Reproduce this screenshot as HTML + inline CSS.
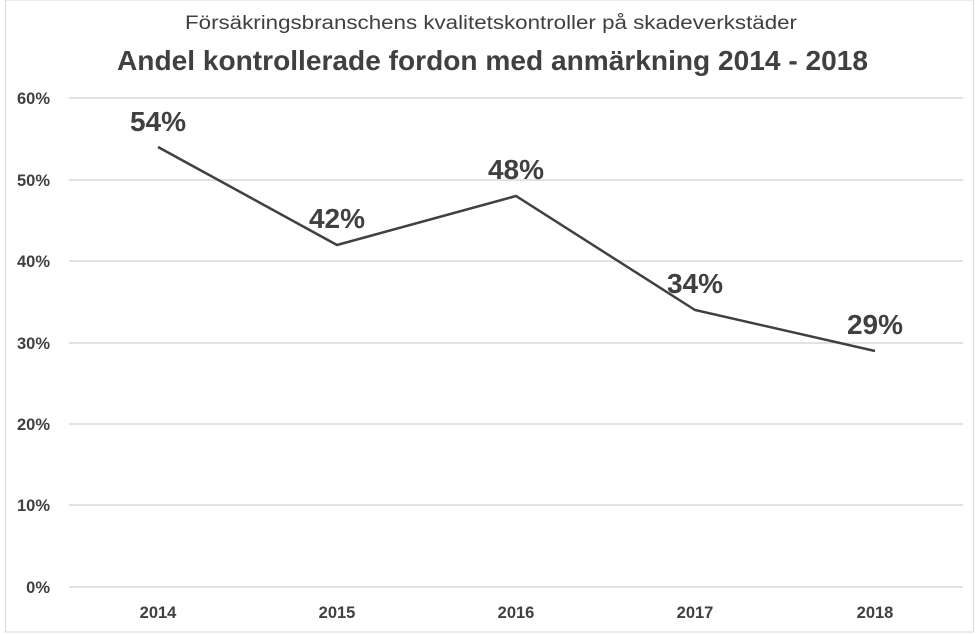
<!DOCTYPE html>
<html><head><meta charset="utf-8"><style>
html,body{margin:0;padding:0;background:#fff;}
svg{display:block;font-family:"Liberation Sans",sans-serif;}
</style></head><body>
<svg width="980" height="634" viewBox="0 0 980 634" xmlns="http://www.w3.org/2000/svg">
<rect x="5.5" y="0" width="968" height="632" fill="#fff" stroke="#d9d9d9" stroke-width="1"/>
<text x="185" y="29" font-size="19" fill="#404040" textLength="612" lengthAdjust="spacingAndGlyphs">Försäkringsbranschens kvalitetskontroller på skadeverkstäder</text>
<text x="117" y="70" font-size="28" font-weight="bold" fill="#404040" textLength="751" lengthAdjust="spacingAndGlyphs">Andel kontrollerade fordon med anmärkning 2014 - 2018</text>
<g stroke="#d9d9d9" stroke-width="1.5">
<line x1="69" x2="963" y1="98" y2="98"/>
<line x1="69" x2="963" y1="180" y2="180"/>
<line x1="69" x2="963" y1="261" y2="261"/>
<line x1="69" x2="963" y1="343" y2="343"/>
<line x1="69" x2="963" y1="424" y2="424"/>
<line x1="69" x2="963" y1="505" y2="505"/>
<line x1="69" x2="963" y1="587" y2="587"/>
</g>
<g font-size="16.5" font-weight="bold" fill="#404040" text-anchor="end">
<text x="50" y="104">60%</text>
<text x="50" y="186">50%</text>
<text x="50" y="267">40%</text>
<text x="50" y="349">30%</text>
<text x="50" y="430">20%</text>
<text x="50" y="511">10%</text>
<text x="50" y="593">0%</text>
</g>
<g font-size="16.5" font-weight="bold" fill="#404040" text-anchor="middle">
<text x="158" y="618">2014</text>
<text x="337" y="618">2015</text>
<text x="516" y="618">2016</text>
<text x="695" y="618">2017</text>
<text x="875" y="618">2018</text>
</g>
<polyline points="158,147 337,245 516,196 695,310 875,351" fill="none" stroke="#404040" stroke-width="2.5"/>
<g font-size="28" font-weight="bold" fill="#404040" text-anchor="middle">
<text x="158" y="131">54%</text>
<text x="337" y="228">42%</text>
<text x="516" y="179">48%</text>
<text x="695" y="293">34%</text>
<text x="875" y="334">29%</text>
</g>
</svg>
</body></html>
